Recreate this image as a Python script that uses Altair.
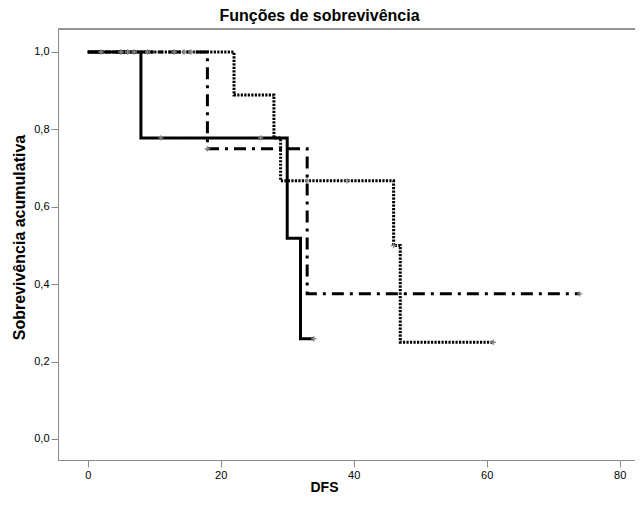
import altair as alt
import pandas as pd

# ---- data ----
groups = ["Grupo 1", "Grupo 2", "Grupo 3"]

g1_time = [0, 8, 30, 32, 34]
g1_surv = [1.0, 0.778, 0.519, 0.259, 0.259]

g2_time = [0, 22, 28, 29, 46, 47, 61]
g2_surv = [1.0, 0.889, 0.778, 0.667, 0.5, 0.25, 0.25]

g3_time = [0, 18, 33, 74]
g3_surv = [1.0, 0.75, 0.375, 0.375]

g1_cens_time = [2, 5, 11, 26, 34]
g1_cens_surv = [1.0, 1.0, 0.778, 0.778, 0.259]
g2_cens_time = [6, 7, 13, 15.5, 33, 39, 46, 61]
g2_cens_surv = [1.0, 1.0, 1.0, 1.0, 0.667, 0.667, 0.5, 0.25]
g3_cens_time = [9, 14.5, 18, 74]
g3_cens_surv = [1.0, 1.0, 0.75, 0.375]

x_ticks = [0, 20, 40, 60, 80]
y_ticks = [0.0, 0.2, 0.4, 0.6, 0.8, 1.0]

# ---- tables ----
curves = pd.concat([
    pd.DataFrame({"grupo": groups[0], "DFS": g1_time, "surv": g1_surv}),
    pd.DataFrame({"grupo": groups[1], "DFS": g2_time, "surv": g2_surv}),
    pd.DataFrame({"grupo": groups[2], "DFS": g3_time, "surv": g3_surv}),
], ignore_index=True)

cens = pd.concat([
    pd.DataFrame({"grupo": groups[0], "DFS": g1_cens_time, "surv": g1_cens_surv}),
    pd.DataFrame({"grupo": groups[1], "DFS": g2_cens_time, "surv": g2_cens_surv}),
    pd.DataFrame({"grupo": groups[2], "DFS": g3_cens_time, "surv": g3_cens_surv}),
], ignore_index=True)

FONT = "Liberation Sans"
W, H = 577, 431

x_scale = alt.Scale(domain=[-4.47, 82.3], nice=False, zero=False)
y_scale = alt.Scale(domain=[-0.0543, 1.0594], nice=False, zero=False)

x_axis = alt.Axis(values=x_ticks, title="DFS", grid=False, tickSize=7,
                  labelPadding=2, format="d", labelFontSize=11,
                  titleFontSize=14, titleBaseline="alphabetic", titleY=31,
                  titleX=266)
y_axis = alt.Axis(values=y_ticks, title="Sobrevivência acumulativa", grid=False,
                  tickSize=7, labelPadding=2, labelFontSize=11,
                  titleFontSize=16, titleAngle=270, titleBaseline="middle",
                  titleAlign="center", titleX=-39, titleY=208,
                  labelExpr="replace(format(datum.value, '.1f'), '.', ',')")

lines = alt.Chart(curves).mark_line(
    interpolate="step-after", color="black", strokeWidth=3, strokeCap="butt",
    clip=True
).encode(
    x=alt.X("DFS:Q", scale=x_scale, axis=x_axis),
    y=alt.Y("surv:Q", scale=y_scale, axis=y_axis),
    strokeDash=alt.StrokeDash(
        "grupo:N",
        scale=alt.Scale(domain=groups, range=[[1, 0], [2.2, 1.3], [12, 6, 3, 6]]),
        legend=None,
    ),
    detail="grupo:N",
)

marks = alt.Chart(cens).mark_point(
    shape="M0,-1L0,1M-1,0L1,0", size=28, color="#8a8a8a", strokeWidth=1.3,
    filled=False, opacity=1
).encode(
    x=alt.X("DFS:Q", scale=x_scale),
    y=alt.Y("surv:Q", scale=y_scale),
)

top_border = alt.Chart(pd.DataFrame({"k": [0]})).mark_rule(
    color="#777777", strokeWidth=1.5
).encode(x=alt.value(0), x2=alt.value(W), y=alt.value(0))

chart = alt.layer(lines, marks, top_border).properties(
    width=W,
    height=H,
    autosize=alt.AutoSizeParams(type="none"),
    padding={"left": 50, "top": 21, "right": 0, "bottom": 36},
    title=alt.TitleParams("Funções de sobrevivência", font=FONT, fontSize=16,
                          fontWeight="bold", anchor="middle", dx=-27,
                          offset=4, color="black"),
).configure_view(
    fill="#e8e8e8", stroke=None
).configure_axis(
    labelFont=FONT, labelColor="#1a1a1a",
    titleFont=FONT, titleFontWeight="bold", titleColor="black",
    domainColor="#222222", domainWidth=1.6, tickColor="#222222", tickWidth=1.6,
).configure(background="white")

chart.save("out.html", embed_options={"renderer": "svg", "actions": False})
